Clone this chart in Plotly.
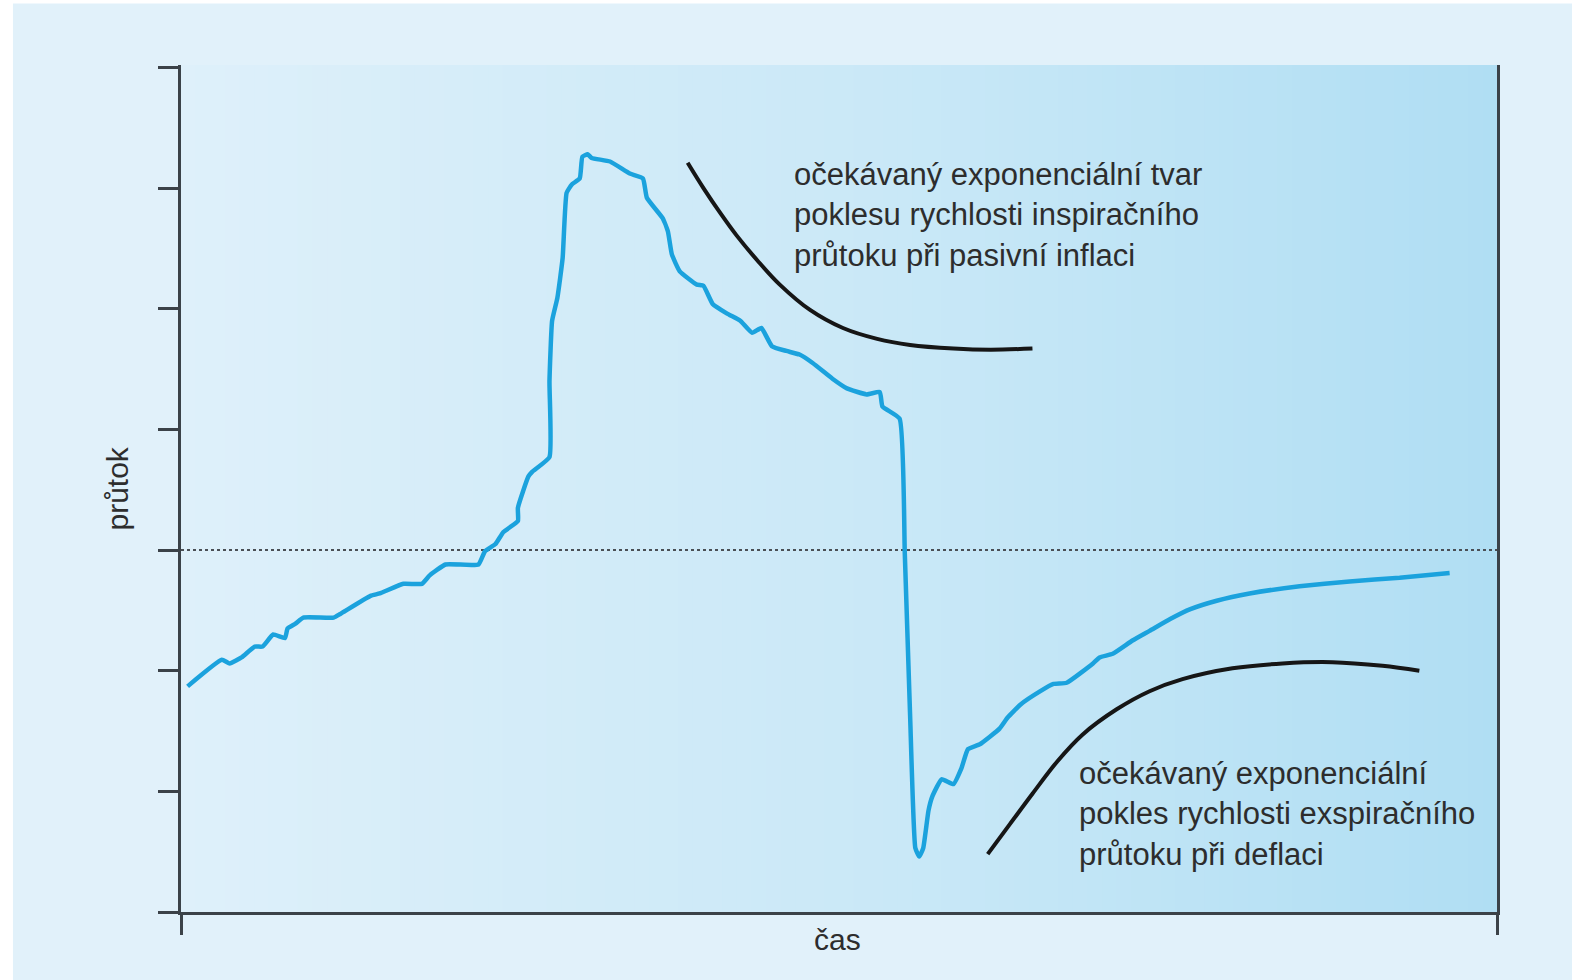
import plotly.graph_objects as go

# ---- data (time in arbitrary units 0..10, flow in arbitrary units) ----
flow_t = [0.05, 0.31, 0.37, 0.46, 0.56, 0.62, 0.70, 0.79, 0.81, 0.87, 0.93, 1.16, 1.21, 1.44, 1.51,
          1.69, 1.83, 1.89, 2.01, 2.26, 2.31, 2.39, 2.45, 2.56, 2.56, 2.64, 2.67, 2.80, 2.80, 2.82,
          2.86, 2.90, 2.93, 2.97, 3.03, 3.05, 3.09, 3.12, 3.26, 3.41, 3.51, 3.54, 3.66, 3.70, 3.73,
          3.79, 3.92, 3.97, 4.04, 4.15, 4.25, 4.34, 4.41, 4.49, 4.60, 4.70, 4.80, 4.95, 5.06, 5.21,
          5.31, 5.33, 5.46, 5.50, 5.54, 5.58, 5.61, 5.64, 5.68, 5.71, 5.78, 5.87, 5.93, 5.98, 6.07,
          6.22, 6.28, 6.38, 6.53, 6.63, 6.73, 6.93, 6.98, 7.08, 7.23, 7.36, 7.52, 7.67, 7.87, 8.12,
          8.50, 8.88, 9.26, 9.64]
flow_v = [-1.13, -0.91, -0.94, -0.89, -0.80, -0.80, -0.70, -0.73, -0.65, -0.61, -0.56, -0.56, -0.53, -0.38, -0.36,
          -0.28, -0.28, -0.21, -0.12, -0.12, -0.01, 0.05, 0.15, 0.24, 0.35, 0.61, 0.65, 0.77, 1.40, 1.90,
          2.09, 2.42, 2.96, 3.03, 3.08, 3.26, 3.28, 3.25, 3.22, 3.12, 3.08, 2.92, 2.75, 2.64, 2.45,
          2.31, 2.20, 2.19, 2.04, 1.96, 1.90, 1.80, 1.84, 1.69, 1.65, 1.62, 1.55, 1.42, 1.34, 1.29,
          1.31, 1.19, 1.09, -0.03, -1.36, -2.47, -2.54, -2.47, -2.16, -2.04, -1.90, -1.94, -1.81, -1.65, -1.61,
          -1.48, -1.39, -1.28, -1.17, -1.11, -1.10, -0.94, -0.89, -0.86, -0.75, -0.67, -0.57, -0.49, -0.42, -0.36,
          -0.30, -0.26, -0.23, -0.19]

insp_t = [3.85, 3.97, 4.10, 4.22, 4.38, 4.55, 4.78, 5.03, 5.29, 5.54, 5.87, 6.15, 6.47]
insp_v = [3.21, 3.00, 2.79, 2.61, 2.40, 2.20, 1.99, 1.84, 1.75, 1.70, 1.67, 1.66, 1.67]

exp_t = [6.13, 6.30, 6.47, 6.66, 6.85, 7.11, 7.36, 7.61, 7.99, 8.37, 8.75, 9.13, 9.41]
exp_v = [-2.52, -2.27, -2.02, -1.75, -1.53, -1.32, -1.17, -1.07, -0.98, -0.94, -0.93, -0.96, -1.00]

y_ticks = [-3, -2, -1, 0, 1, 2, 3, 4]
x_ticks = [0, 10]

label_insp = "očekávaný exponenciální tvar<br>poklesu rychlosti inspiračního<br>průtoku při pasivní inflaci"
label_exp = "očekávaný exponenciální<br>pokles rychlosti exspiračního<br>průtoku při deflaci"

# ---- figure ----
FONT = "Liberation Sans, Arial, sans-serif"
TXT = "#2d2d2d"
AX = "#3b4248"

fig = go.Figure()
fig.add_trace(go.Scatter(x=flow_t, y=flow_v, mode="lines",
                         line=dict(color="#1ba2dd", width=4.5, shape="spline", smoothing=0.4),
                         hoverinfo="skip"))
fig.add_trace(go.Scatter(x=insp_t, y=insp_v, mode="lines",
                         line=dict(color="#161616", width=4, shape="spline"), hoverinfo="skip"))
fig.add_trace(go.Scatter(x=exp_t, y=exp_v, mode="lines",
                         line=dict(color="#161616", width=4, shape="spline"), hoverinfo="skip"))

# gradient background of the plot area
def lerp(c1, c2, f):
    return tuple(round(a + (b - a) * f) for a, b in zip(c1, c2))

stops = [(0.0, (222, 240, 250)), (0.55, (201, 232, 247)), (1.0, (176, 222, 243))]
shapes = []
N = 90
for i in range(N):
    f = (i + 0.5) / N
    for j in range(len(stops) - 1):
        if stops[j][0] <= f <= stops[j + 1][0]:
            g = (f - stops[j][0]) / (stops[j + 1][0] - stops[j][0])
            c = lerp(stops[j][1], stops[j + 1][1], g)
            break
    shapes.append(dict(type="rect", xref="paper", yref="paper", x0=i / N, x1=(i + 1) / N + 0.002,
                       y0=0, y1=1, fillcolor="rgb(%d,%d,%d)" % c, line=dict(width=0), layer="below"))
# white page border strips (top and left)
shapes.append(dict(type="rect", xref="paper", yref="paper", x0=-0.2, x1=-0.1277, y0=-0.2, y1=1.2,
                   fillcolor="white", line=dict(width=0), layer="below"))
shapes.append(dict(type="rect", xref="paper", yref="paper", x0=-0.2, x1=1.2, y0=1.0725, y1=1.2,
                   fillcolor="white", line=dict(width=0), layer="below"))
# zero line (dotted)
shapes.append(dict(type="line", xref="paper", yref="y", x0=0, x1=1, y0=0, y1=0,
                   line=dict(color="#4a4f55", width=2, dash="dot"), layer="below"))

fig.update_layout(
    width=1572, height=980,
    margin=dict(l=181, r=75, t=65, b=68),
    paper_bgcolor="#e1f1fa", plot_bgcolor="#dcf0fa",
    showlegend=False,
    shapes=shapes,
    font=dict(family=FONT, color=TXT),
    xaxis=dict(range=[0, 10], showgrid=False, zeroline=False, showline=True, linecolor=AX, linewidth=3,
               ticks="outside", tickvals=x_ticks, ticklen=20, tickwidth=3, tickcolor=AX,
               showticklabels=False, fixedrange=True),
    yaxis=dict(range=[-3, 4.02], showgrid=False, zeroline=False, showline=True, linecolor=AX, linewidth=3,
               mirror=True, ticks="outside", tickvals=y_ticks, ticklen=20, tickwidth=3, tickcolor=AX,
               showticklabels=False, fixedrange=True),
    annotations=[
        dict(text=label_insp, x=4.64, y=2.78, xref="x", yref="y", xanchor="left", yanchor="middle",
             align="left", showarrow=False, font=dict(size=31, family=FONT, color=TXT)),
        dict(text=label_exp, x=6.81, y=-2.19, xref="x", yref="y", xanchor="left", yanchor="middle",
             align="left", showarrow=False, font=dict(size=31, family=FONT, color=TXT)),
        dict(text="průtok", x=-0.0486, y=0.5, xref="paper", yref="paper", textangle=-90,
             xanchor="center", yanchor="middle", showarrow=False, font=dict(size=30, family=FONT, color=TXT)),
        dict(text="čas", x=0.4992, y=-0.033, xref="paper", yref="paper",
             xanchor="center", yanchor="middle", showarrow=False, font=dict(size=30, family=FONT, color=TXT)),
    ],
)

fig.write_html("out.html", config={"displayModeBar": False},
               post_script="document.body.style.margin='0';document.body.style.overflow='hidden';")
